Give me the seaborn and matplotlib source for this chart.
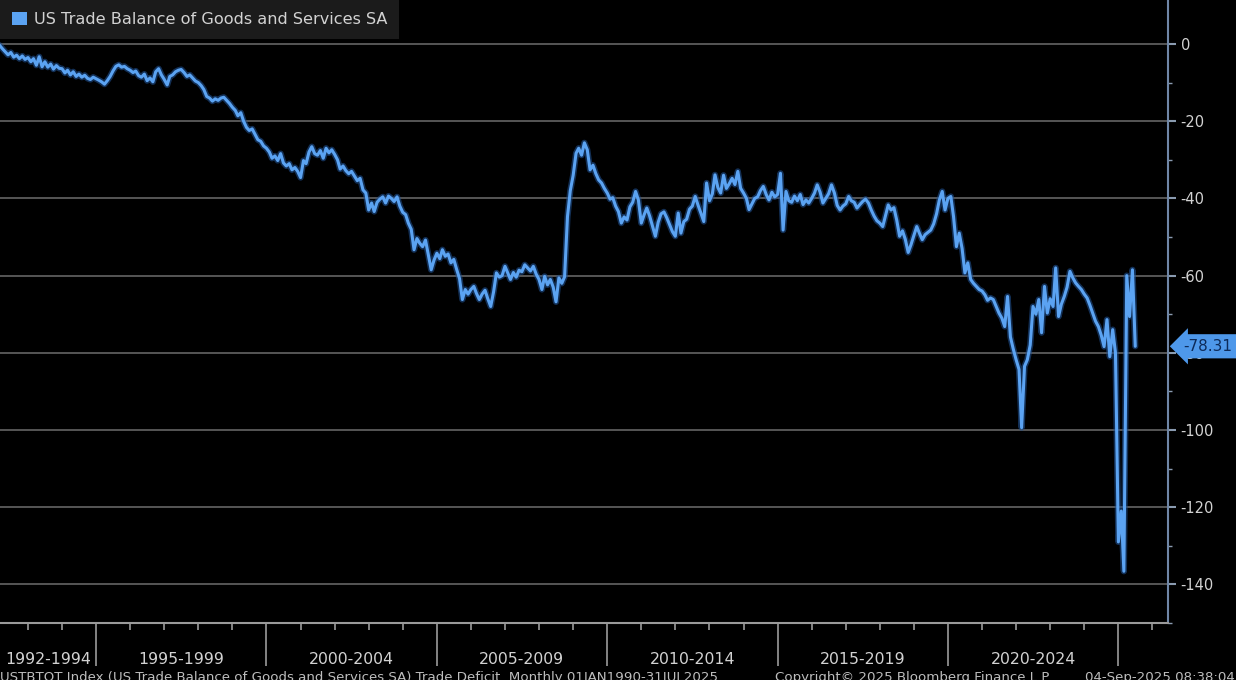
import pandas as pd
import numpy as np
import matplotlib
matplotlib.use("Agg")
import matplotlib.pyplot as plt
import matplotlib.dates as mdates
import matplotlib.patheffects as pe
from matplotlib.patches import Patch
import seaborn as sns

# monthly trade balance, USD bn, Mar 1992 - Jul 2025
tb_1992_1994 = [-0.3, -1.2, -2.0, -2.8, -2.2, -3.4, -2.9, -3.8, -3.1, -4.0,
                -3.5, -4.6, -3.8, -5.5, -3.3, -5.9, -4.6, -6.0, -5.2, -6.5, -5.6, -6.3,
                -6.4, -7.5, -6.8, -8.0, -7.2, -8.4, -7.8, -8.6, -8.1, -8.9, -9.2, -8.6]
tb_1995_1999 = [-9.0, -9.4, -9.8, -10.4, -9.5, -8.4, -7.0, -5.8, -5.4, -6.0, -5.8, -6.4,
                -6.8, -7.4, -7.0, -8.2, -8.6, -7.8, -9.5, -8.8, -9.8, -7.2, -6.4, -8.0,
                -9.2, -10.6, -8.4, -8.0, -7.2, -6.8, -6.6, -7.4, -8.4, -8.0, -8.8, -9.6,
                -10.0, -10.8, -11.8, -13.6, -14.0, -14.8, -14.2, -14.6, -14.0, -13.8, -14.6, -15.4,
                -16.4, -17.2, -18.6, -17.8, -20.0, -21.6, -22.4, -22.0, -23.4, -24.8, -25.2, -26.4]
tb_2000_2004 = [-27.0, -28.0, -29.6, -29.0, -30.2, -28.4, -30.8, -31.6, -31.0, -32.6, -32.0, -33.0,
                -34.6, -30.2, -31.0, -28.0, -26.6, -28.4, -28.8, -27.6, -29.6, -27.0, -28.2, -27.4,
                -28.6, -30.0, -32.4, -31.6, -32.8, -33.6, -33.0, -34.2, -35.4, -34.8, -37.8, -38.6,
                -43.0, -41.2, -43.4, -41.0, -40.2, -39.6, -41.2, -39.4, -40.0, -40.8, -39.6, -42.0,
                -43.6, -44.2, -46.4, -48.0, -53.3, -50.4, -51.6, -52.5, -50.8, -54.6, -58.5, -56.0]
tb_2005_2009 = [-54.2, -55.6, -53.3, -55.0, -54.4, -56.7, -55.8, -58.4, -60.8, -66.2, -63.6, -64.8,
                -63.6, -62.8, -64.6, -66.2, -64.8, -63.8, -66.0, -68.0, -64.2, -59.3, -60.4, -60.0,
                -57.6, -59.4, -61.0, -59.2, -60.4, -58.6, -59.0, -57.2, -58.0, -58.8, -57.6, -59.6,
                -61.0, -63.6, -60.2, -62.4, -61.0, -63.0, -66.8, -60.6, -62.0, -60.3, -44.7, -38.0,
                -34.0, -28.3, -27.0, -28.8, -25.6, -27.4, -32.6, -31.4, -33.6, -35.2, -36.0, -37.4]
tb_2010_2014 = [-38.6, -40.2, -39.8, -42.0, -43.4, -46.4, -44.8, -45.6, -42.2, -41.0, -38.2, -40.4,
                -46.4, -44.2, -42.5, -44.6, -47.2, -49.8, -46.2, -44.0, -43.5, -45.0, -46.8, -48.6,
                -49.8, -43.8, -49.0, -46.0, -45.4, -42.8, -42.0, -39.5, -41.8, -43.8, -46.0, -36.0,
                -40.6, -38.8, -33.9, -37.2, -38.6, -34.0, -37.4, -36.2, -34.8, -36.4, -33.0, -37.4,
                -38.6, -40.0, -42.9, -41.4, -40.0, -39.6, -38.0, -36.9, -39.0, -40.4, -38.4, -39.6]
tb_2015_2019 = [-39.0, -33.5, -48.2, -38.2, -40.6, -41.0, -39.4, -40.6, -39.0, -41.6, -40.4, -41.2,
                -40.0, -38.6, -36.5, -38.4, -41.2, -40.0, -38.8, -36.5, -38.6, -41.8, -43.0, -42.0,
                -41.4, -39.5, -40.6, -41.0, -42.5, -41.6, -40.8, -40.2, -41.2, -43.0, -44.6, -45.8,
                -46.4, -47.3, -44.6, -41.7, -43.0, -42.4, -45.6, -49.8, -48.4, -50.6, -54.0, -52.0,
                -49.6, -47.3, -49.0, -50.7, -49.4, -48.8, -48.2, -46.6, -44.0, -40.4, -38.2, -43.0]
tb_2020_2024 = [-40.0, -39.5, -44.7, -52.5, -49.0, -53.0, -59.3, -56.7, -61.0, -62.0, -62.8, -63.6,
                -64.0, -65.0, -66.4, -65.8, -66.2, -68.0, -69.7, -71.0, -73.2, -65.4, -75.9, -79.0,
                -81.8, -84.3, -99.4, -83.5, -81.8, -78.0, -68.0, -70.0, -66.2, -74.8, -62.8, -69.7,
                -66.0, -68.0, -58.0, -70.6, -67.4, -65.4, -63.0, -58.9, -60.6, -61.9, -62.8, -63.6,
                -64.8, -65.8, -67.6, -69.7, -71.8, -73.2, -75.4, -78.4, -71.4, -81.0, -74.0, -80.0]
tb_2025 = [-129.0, -121.0, -136.6, -60.0, -70.6, -58.5, -78.31]

period_labels = ["1992-1994", "1995-1999", "2000-2004", "2005-2009",
                 "2010-2014", "2015-2019", "2020-2024"]
series_name = "US Trade Balance of Goods and Services SA"
footer_parts = ["USTBTOT Index (US Trade Balance of Goods and Services SA) Trade Deficit  Monthly 01JAN1990-31JUL2025",
                "Copyright\u00a9 2025 Bloomberg Finance L.P.",
                "04-Sep-2025 08:38:04"]

values = (tb_1992_1994 + tb_1995_1999 + tb_2000_2004 + tb_2005_2009
          + tb_2010_2014 + tb_2015_2019 + tb_2020_2024 + tb_2025)
dates = pd.date_range("1992-03-01", periods=len(values), freq="MS")
df = pd.DataFrame({"date": dates, "value": values})

sns.set_style("dark")
plt.rcParams["font.family"] = ["DejaVu Sans"]

BLUE = "#5ba3f2"
GRID = "#5c5c5c"
TXT = "#d2d2d2"

fig = plt.figure(figsize=(12.36, 6.8), dpi=100, facecolor="black")
ax = fig.add_axes([0, 57 / 680, 1168 / 1236, 623 / 680])
ax.set_facecolor("black")

sns.lineplot(data=df, x="date", y="value", ax=ax, color=BLUE, linewidth=2.2,
             path_effects=[pe.Stroke(linewidth=4.5, foreground="#1f4f8f", alpha=0.6), pe.Normal()],
             zorder=5)

ax.set_xlim(pd.Timestamp("1992-03-07"), pd.Timestamp("2026-06-17"))
ax.set_ylim(-149.8, 11.4)

# right-hand y axis
ax.yaxis.tick_right()
ax.set_yticks(np.arange(-140, 1, 20))
ax.set_yticks(np.arange(-150, 1, 10), minor=True)
ax.set_yticklabels([f"{v:d}" for v in np.arange(-140, 1, 20)])
ax.tick_params(axis="y", which="major", colors="#8a9bb0", labelcolor=TXT, length=6, width=1.5,
               direction="out", labelsize=10.5, pad=3, right=True, left=False)
ax.tick_params(axis="y", which="minor", colors="#8a9bb0", length=3, width=1, right=True, left=False)
ax.grid(axis="y", which="major", color=GRID, linewidth=1.3)
ax.grid(axis="x", visible=False)

# bottom axis: year ticks, long 5-year separators
ax.xaxis.set_major_locator(mdates.YearLocator(5))
ax.xaxis.set_minor_locator(mdates.YearLocator(1))
ax.xaxis.set_major_formatter(plt.NullFormatter())
ax.tick_params(axis="x", which="major", bottom=True, colors="#9a9a9a", length=31, width=1.2,
               direction="out")
ax.tick_params(axis="x", which="minor", bottom=True, colors="#9a9a9a", length=5, width=1.2,
               direction="out")
ax.set_xlabel("")
ax.set_ylabel("")

label_pos = [pd.Timestamp("1993-08-01"), pd.Timestamp("1997-07-01"), pd.Timestamp("2002-07-01"),
             pd.Timestamp("2007-07-01"), pd.Timestamp("2012-07-01"), pd.Timestamp("2017-07-01"),
             pd.Timestamp("2022-07-01")]
for pos, lab in zip(label_pos, period_labels):
    ax.text(pos, -0.058, lab, transform=ax.get_xaxis_transform(), ha="center", va="center",
            color=TXT, fontsize=11.3, clip_on=False)

for side in ["top", "left"]:
    ax.spines[side].set_visible(False)
ax.spines["bottom"].set_color("#9a9a9a")
ax.spines["bottom"].set_linewidth(1.5)
ax.spines["right"].set_color("#6f86a6")
ax.spines["right"].set_linewidth(1.5)

# last value tag, pointing at the right axis
last = values[-1]
ax.text(1.013, last, f"{last:.2f}", transform=ax.get_yaxis_transform(), ha="left", va="center",
        color="#0d2b5a", fontsize=11, clip_on=False, zorder=20,
        bbox=dict(boxstyle="larrow,pad=0.3", fc="#4e98ea", ec="none"))

# legend box in the top-left corner
leg = ax.legend(handles=[Patch(facecolor=BLUE, edgecolor="none")], labels=[series_name],
                loc="upper left", bbox_to_anchor=(0, 1), borderaxespad=0, frameon=True,
                fancybox=False, handlelength=0.9, handleheight=0.9, handletextpad=0.45,
                fontsize=11.6, labelcolor=TXT, borderpad=0.75)
leg.get_frame().set_facecolor("#1b1b1b")
leg.get_frame().set_edgecolor("none")
leg.get_frame().set_alpha(1)
leg.set_zorder(30)

for xpx, part in zip([0, 775, 1085], footer_parts):
    fig.text(xpx / 1236, 3 / 680, part, ha="left", va="center", color="#bdbdbd", fontsize=9.6)

fig.savefig("out.png", dpi=100, facecolor="black")
